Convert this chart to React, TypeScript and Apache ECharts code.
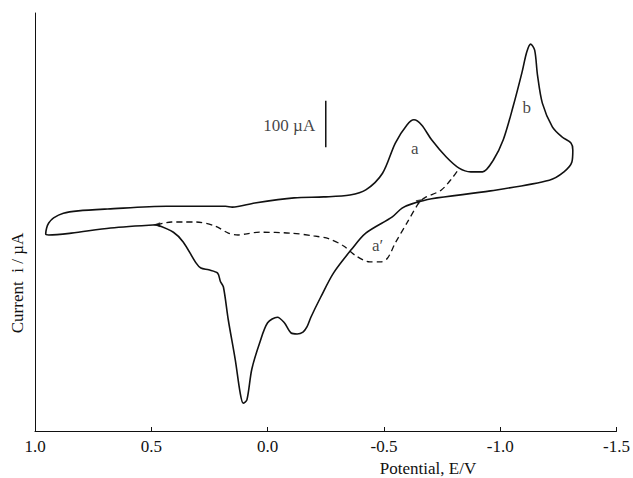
import React, { useEffect, useRef } from "react";
import * as echarts from "echarts";

// Potential axis ticks (V)
const xTickValues = [1.0, 0.5, 0.0, -0.5, -1.0, -1.5];

// Solid cyclic voltammogram (closed loop), potential (V) and current (µA)
const solidPotential = [
  0.477, 0.675, 0.844, 0.941, 0.954, 0.95, 0.941, 0.92, 0.878, 0.814, 0.688, 0.435, 0.181, 0.152,
  0.055, -0.114, -0.241, -0.354, -0.422, -0.494, -0.549, -0.599, -0.629, -0.662, -0.705, -0.768,
  -0.823, -0.873, -0.924, -0.97, -1.013, -1.055, -1.093, -1.114, -1.131, -1.148, -1.16, -1.181,
  -1.224, -1.266, -1.304, -1.312, -1.308, -1.274, -1.211, -0.958, -0.705, -0.62, -0.578, -0.536,
  -0.422, -0.359, -0.283, -0.228, -0.186, -0.169, -0.152, -0.127, -0.101, -0.072, -0.042, 0.0,
  0.034, 0.068, 0.089, 0.105, 0.118, 0.139, 0.169, 0.19, 0.203, 0.215, 0.253, 0.287, 0.308,
  0.363, 0.405, 0.477,
];
const solidCurrent = [
  -156, -163, -174, -178, -176, -163, -152, -141, -131, -126, -122, -116, -116, -118,
  -109, -98, -96, -92, -81, -45, 20, 59, 70, 59, 27, -10,
  -34, -42, -42, -17, 27, 98, 171, 216, 233, 220, 167, 106,
  55, 33, 20, 5, -21, -42, -60, -83, -100, -111, -120, -139,
  -174, -210, -260, -312, -355, -376, -387, -391, -389, -367, -355, -367,
  -410, -467, -533, -540, -518, -447, -361, -290, -278, -260, -253, -249, -238,
  -193, -172, -156,
];

// Dashed curve (reverse scan switched before peak b)
const dashedPotential = [
  0.477, 0.414, 0.363, 0.308, 0.224, 0.169, 0.127, 0.097, 0.034, -0.101, -0.198, -0.262, -0.325,
  -0.38, -0.439, -0.485, -0.515, -0.549, -0.599, -0.65, -0.675, -0.747, -0.797, -0.819,
];
const dashedCurrent = [
  -156, -150, -150, -150, -159, -174, -178, -176, -172, -174, -180, -186, -201,
  -223, -236, -236, -228, -195, -152, -109, -98, -81, -53, -38,
];

// Scale bar: 100 µA
const scaleBarPotential = [-0.25, -0.25];
const scaleBarCurrent = [11, 111];

// Peak labels
const peakLabels = ["a", "b", "a\u2032", "100 \u00b5A"];
const peakLabelPotential = [-0.633, -1.114, -0.473, -0.093];
const peakLabelCurrent = [9, 96, -200, 57];

// Direction arrowheads
const arrowPotential = [0.477, -0.655];
const arrowCurrent = [-156, -104];
const arrowRotate = [90, -60];

const zip = (a: number[], b: number[]) => a.map((v, i) => [v, b[i]]);

const FONT = "'Liberation Serif', 'Times New Roman', serif";
const INK = "#111111";

export default function App() {
  const ref = useRef<HTMLDivElement>(null);

  useEffect(() => {
    if (!ref.current) return;
    document.documentElement.style.overflow = "hidden";
    document.body.style.margin = "0";
    document.body.style.overflow = "hidden";
    const chart = echarts.init(ref.current, null, { renderer: "svg", width: 633, height: 478 });
    const option: any = {
      animation: false,
      backgroundColor: "#ffffff",
      grid: { left: 35, right: 6, top: 13, bottom: 47, containLabel: false },
      xAxis: {
        type: "value",
        inverse: true,
        min: -1.5,
        max: 1.0,
        interval: 0.5,
        axisLine: { show: true, onZero: false, lineStyle: { color: INK, width: 1 } },
        axisTick: { show: true, inside: true, length: 4, lineStyle: { color: INK } },
        axisLabel: {
          color: INK,
          fontFamily: FONT,
          fontSize: 17,
          margin: 7,
          formatter: (v: number) => (xTickValues.includes(v) ? v.toFixed(1) : ""),
        },
        splitLine: { show: false },
      },
      yAxis: {
        type: "value",
        min: -600,
        max: 300,
        axisLine: { show: true, onZero: false, lineStyle: { color: INK, width: 1 } },
        axisTick: { show: false },
        axisLabel: { show: false },
        splitLine: { show: false },
      },
      graphic: [
        {
          type: "text",
          x: 428,
          y: 468,
          style: {
            text: "Potential, E/V",
            font: `17px ${FONT}`,
            fill: INK,
            textAlign: "center",
            textVerticalAlign: "middle",
          },
        },
        {
          type: "text",
          x: 17,
          y: 283,
          rotation: Math.PI / 2,
          style: {
            text: "Current  i / \u00b5A",
            font: `17px ${FONT}`,
            fill: INK,
            textAlign: "center",
            textVerticalAlign: "middle",
          },
        },
      ],
      series: [
        {
          type: "line",
          data: zip(solidPotential, solidCurrent),
          smooth: 0.3,
          symbol: "none",
          lineStyle: { color: INK, width: 1.6 },
        },
        {
          type: "line",
          data: zip(dashedPotential, dashedCurrent),
          smooth: 0.3,
          symbol: "none",
          lineStyle: { color: INK, width: 1.3, type: [6, 4] },
        },
        {
          type: "line",
          data: zip(scaleBarPotential, scaleBarCurrent),
          symbol: "none",
          lineStyle: { color: INK, width: 1.5 },
        },
        {
          type: "scatter",
          data: zip(peakLabelPotential, peakLabelCurrent).map((d, i) => ({
            value: d,
            label: { formatter: peakLabels[i] },
          })),
          symbolSize: 1,
          itemStyle: { color: "rgba(0,0,0,0)" },
          label: {
            show: true,
            position: "inside",
            color: INK,
            textBorderWidth: 0,
            fontFamily: FONT,
            fontSize: 17,
          },
        },
        {
          type: "scatter",
          data: zip(arrowPotential, arrowCurrent).map((d, i) => ({
            value: d,
            symbolRotate: arrowRotate[i],
          })),
          symbol: "triangle",
          symbolSize: [5, 7],
          itemStyle: { color: INK },
        },
      ],
    };
    chart.setOption(option);
    return () => chart.dispose();
  }, []);

  return (
    <div
      ref={ref}
      style={{ position: "fixed", left: 0, top: 0, width: 633, height: 478, background: "#fff" }}
    />
  );
}
